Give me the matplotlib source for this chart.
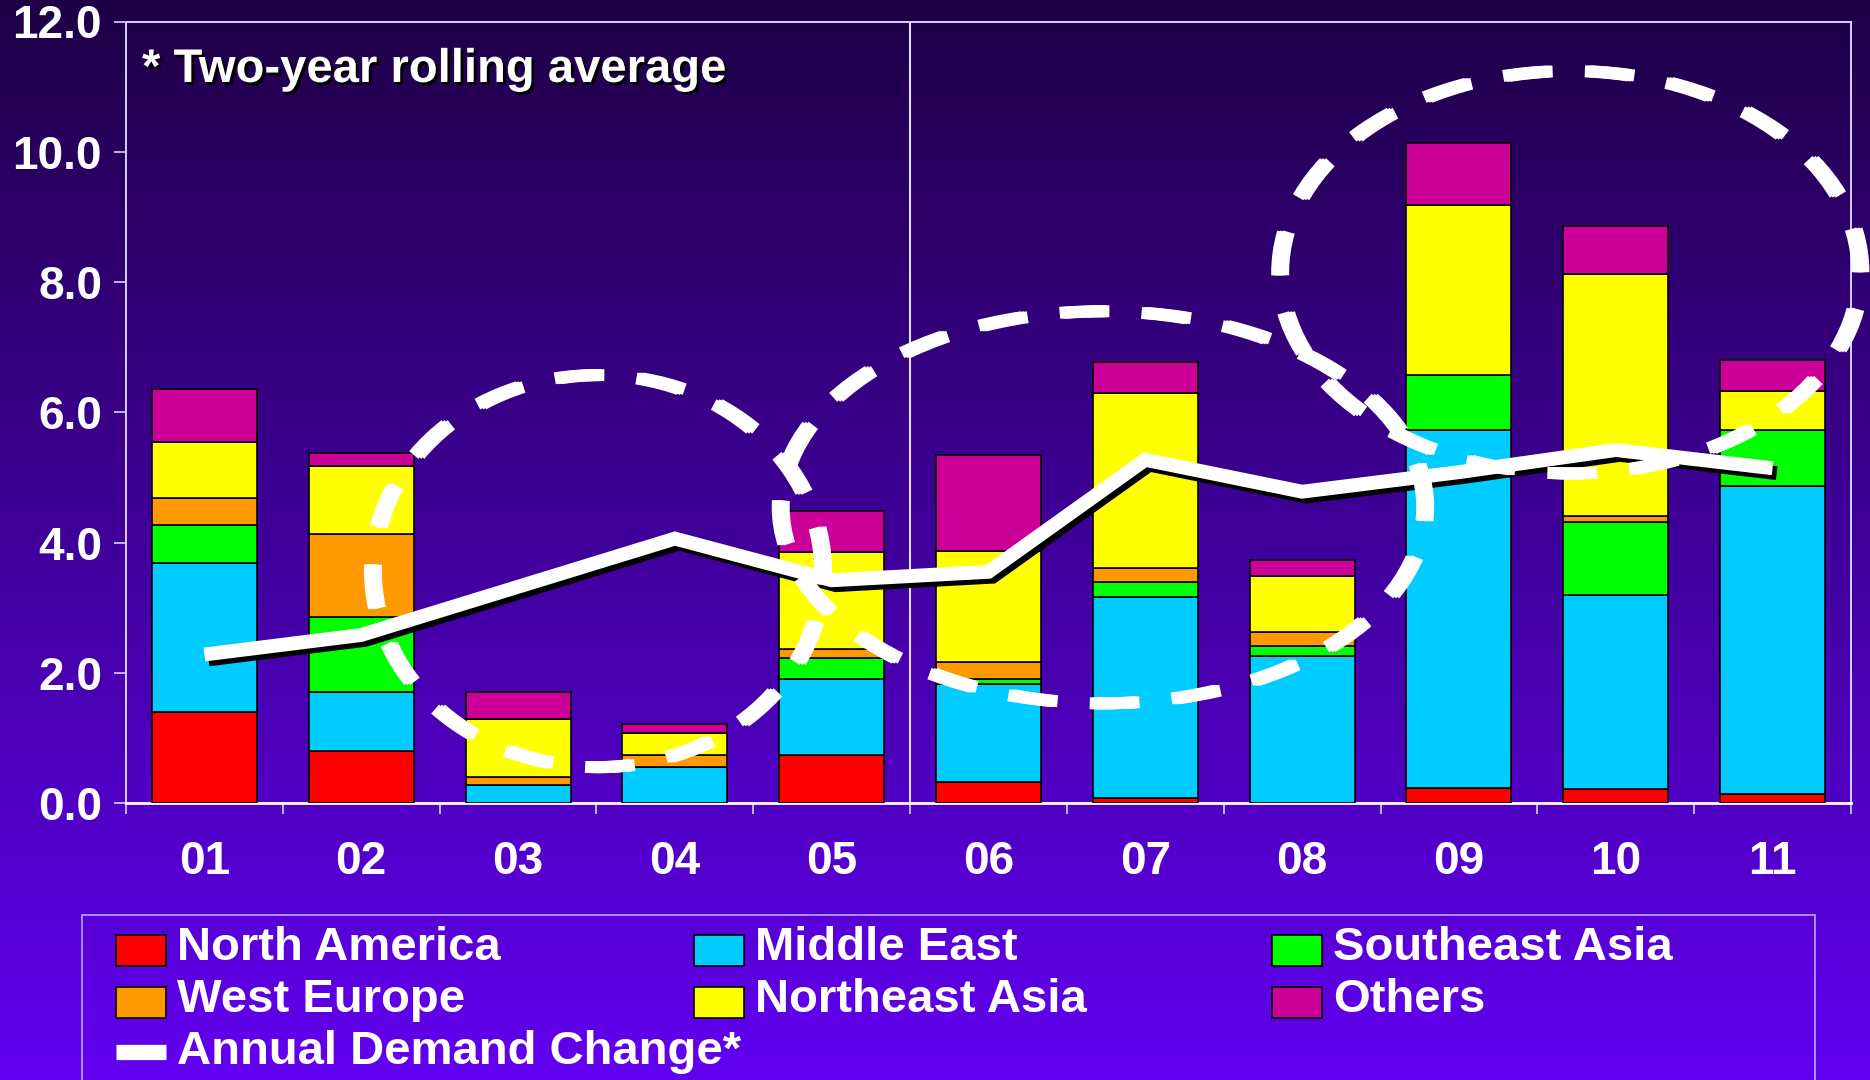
import matplotlib
matplotlib.use("Agg")
import matplotlib.pyplot as plt
import matplotlib.patheffects as pe
import matplotlib.transforms as mtransforms
from matplotlib.patches import Ellipse, Rectangle
from matplotlib.lines import Line2D
import numpy as np

# ---- data ----
years = ["01", "02", "03", "04", "05", "06", "07", "08", "09", "10", "11"]
north_america  = [1.40, 0.80, 0.00, 0.00, 0.73, 0.33, 0.08, 0.00, 0.23, 0.22, 0.14]
middle_east    = [2.29, 0.90, 0.28, 0.55, 1.18, 1.49, 3.09, 2.26, 5.49, 2.98, 4.73]
southeast_asia = [0.58, 1.15, 0.00, 0.00, 0.32, 0.09, 0.23, 0.15, 0.85, 1.11, 0.85]
west_europe    = [0.41, 1.28, 0.12, 0.18, 0.14, 0.25, 0.21, 0.21, 0.00, 0.09, 0.00]
northeast_asia = [0.87, 1.04, 0.89, 0.35, 1.48, 1.71, 2.68, 0.87, 2.62, 3.72, 0.60]
others         = [0.80, 0.20, 0.41, 0.14, 0.64, 1.47, 0.48, 0.24, 0.95, 0.74, 0.48]
demand_change  = [2.28, 2.58, 3.32, 4.06, 3.42, 3.55, 5.27, 4.78, 5.08, 5.42, 5.14]

series = [
    ("North America", north_america, "#ff0000"),
    ("Middle East", middle_east, "#00ccff"),
    ("Southeast Asia", southeast_asia, "#00ff00"),
    ("West Europe", west_europe, "#ff9900"),
    ("Northeast Asia", northeast_asia, "#ffff00"),
    ("Others", others, "#cc0099"),
]
line_label = "Annual Demand Change*"
note_text = "* Two-year rolling average"

# dashed highlight ellipses: (x centre, y centre, width, height) in data units
highlights = [(2.51, 3.56, 2.87, 6.02), (5.73, 4.54, 4.11, 6.02), (8.71, 8.15, 3.70, 6.18)]

plt.rcParams['font.family'] = ['Liberation Sans', 'DejaVu Sans']
plt.rcParams['font.weight'] = 'bold'
plt.rcParams['lines.scale_dashes'] = False

W, H = 1870, 1080
fig = plt.figure(figsize=(W / 100, H / 100), dpi=100)

def fx(px):
    return px / W

def fy(py):
    return 1 - py / H

# background gradient
bg = fig.add_axes([0, 0, 1, 1], zorder=-10)
top = np.array([30, 0, 70]) / 255
bot = np.array([98, 0, 240]) / 255
t = np.linspace(0, 1, 256)[:, None]
grad = (top * (1 - t) + bot * t)[:, None, :]
bg.imshow(grad, aspect='auto', extent=[0, 1, 0, 1])
bg.axis('off')

ax = fig.add_axes([fx(126), fy(803), fx(1851) - fx(126), fy(21.5) - fy(803)])
ax.set_facecolor('none')

x = np.arange(len(years))
bottom = np.zeros(len(years))
for name, vals, col in series:
    ax.bar(x, vals, width=0.67, bottom=bottom, color=col, edgecolor='black',
           linewidth=1.2, zorder=3)
    bottom += np.array(vals)

ax.plot(x, demand_change, color='white', lw=10, solid_joinstyle='miter',
        solid_capstyle='butt', zorder=5,
        path_effects=[pe.SimpleLineShadow(offset=(3, -3.5), shadow_color='black', alpha=1),
                      pe.Normal()])

ax.axvline(4.5, color='#e0dcff', lw=1.5, zorder=1)

for cx, cy, w, h in highlights:
    for dx in (-3, 0, 3):
        tr = mtransforms.offset_copy(ax.transData, fig=fig, x=dx, y=0, units='dots')
        e = Ellipse((cx, cy), width=h, height=w, angle=90, transform=tr,
                    fill=False, edgecolor='white', lw=8.6,
                    linestyle=(0, (31.5, 27.5)), zorder=6, clip_on=False)
        ax.add_patch(e)

ax.set_xlim(-0.5, 10.5)
ax.set_ylim(0, 12)
ax.set_yticks(np.arange(0, 12.1, 2))
ax.set_yticklabels([f"{v:.1f}" for v in np.arange(0, 12.1, 2)])
ax.set_xticks(x)
ax.set_xticklabels(years)
ax.set_xticks(np.arange(-0.5, 11, 1), minor=True)
ax.tick_params(axis='x', which='major', length=0, pad=27, labelsize=33, labelcolor='white')
ax.tick_params(axis='x', which='minor', length=8, width=1.2, color='#d8d0ff', direction='out')
ax.tick_params(axis='y', length=8.6, width=1.2, color='#d8d0ff', pad=8.6,
               labelsize=33, labelcolor='white')
for s in ax.spines.values():
    s.set_color('#d8d0ff')
    s.set_linewidth(1.4)
ax.spines['bottom'].set_color('white')
ax.spines['bottom'].set_linewidth(2)

fig.text(fx(142), fy(82), note_text, color='white', fontsize=34, va='baseline',
         path_effects=[pe.withSimplePatchShadow(offset=(2, -2), shadow_rgbFace='black', alpha=1)])

# legend, laid out like the slide (3 columns, line entry on its own row)
fig.patches.append(Rectangle((fx(82), fy(1090)), fx(1815) - fx(82), fy(915) - fy(1090),
                             transform=fig.transFigure, fill=False,
                             edgecolor='#b8a8ff', lw=1.2))
col_px = [116, 694, 1272]
row_top = [935, 987, 1039]
for i, (name, vals, col) in enumerate(series):
    r, c = i // 3, i % 3
    fig.patches.append(Rectangle((fx(col_px[c]), fy(row_top[r] + 31)), fx(50), 31 / H,
                                 transform=fig.transFigure, facecolor=col,
                                 edgecolor='black', lw=1.2))
    fig.text(fx(col_px[c] + 61), fy(row_top[r] + 25), name, color='white',
             fontsize=34, va='baseline')
fig.lines.append(Line2D([fx(116), fx(166)], [fy(1051.5)] * 2, transform=fig.transFigure,
                        color='white', lw=11, solid_capstyle='butt'))
fig.text(fx(177), fy(1064), line_label, color='white', fontsize=34, va='baseline')

fig.savefig("out.png", dpi=100)
